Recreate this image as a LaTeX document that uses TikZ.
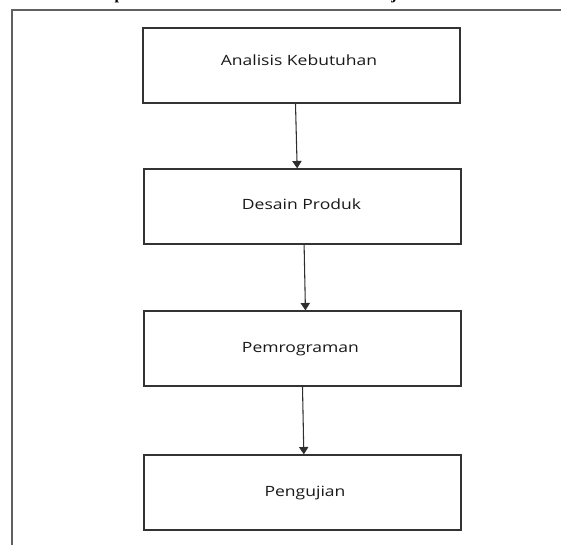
\documentclass[tikz,border=0pt]{standalone}
\usepackage{fontspec}
\setmainfont{Open Sans}[FakeStretch=1.24]
\newfontfamily\capfont{Liberation Serif}
\usetikzlibrary{arrows.meta}
\begin{document}
\begin{tikzpicture}[x=0.75pt,y=-0.75pt,
  stepbox/.style={draw=black!80,line width=1pt,minimum width=237.75pt,minimum height=56.25pt,inner sep=0pt},
  steptext/.style={anchor=base,inner sep=0pt,text=black!90,font=\fontsize{10.6pt}{12pt}\selectfont},
  frameline/.style={draw=black!62,line width=0.8pt},
  flow/.style={draw=black!82,line width=0.8pt,-{Triangle[length=5.5pt,width=7pt]}},
  capfrag/.style={anchor=base west,inner sep=0pt,font=\capfont\bfseries\fontsize{12pt}{14pt}\selectfont}]
\useasboundingbox (0,0) rectangle (561,545);
% clipped caption fragments at the top edge
\node[capfrag] (cp) at (114.4,-0.5) {p};
\node[capfrag] (cj) at (391,-0.5) {j};
% frame
\draw[frameline] (12,545) -- (12,10) -- (561,10);
% boxes
\node[stepbox] (a) at (301.5,65.5) {};
\node[stepbox] (b) at (302.5,206.5) {};
\node[stepbox] (c) at (302.5,348.5) {};
\node[stepbox] (d) at (302.5,492.5) {};
% texts
\node[steptext] (ta) at (299,66) {Analisis Kebutuhan};
\node[steptext] (tb) at (301.5,209.3) {Desain Produk};
\node[steptext] (tc) at (300.5,353) {Pemrograman};
\node[steptext] (td) at (305,497) {Pengujian};
% arrows
\draw[flow] ([xshift=-4.5pt]a.south) -- ([xshift=-4pt]b.north);
\draw[flow] ([xshift=1.2pt]b.south) -- ([xshift=2.2pt]c.north);
\draw[flow] ([xshift=0pt]c.south) -- ([xshift=1pt]d.north);
\end{tikzpicture}
\end{document}
